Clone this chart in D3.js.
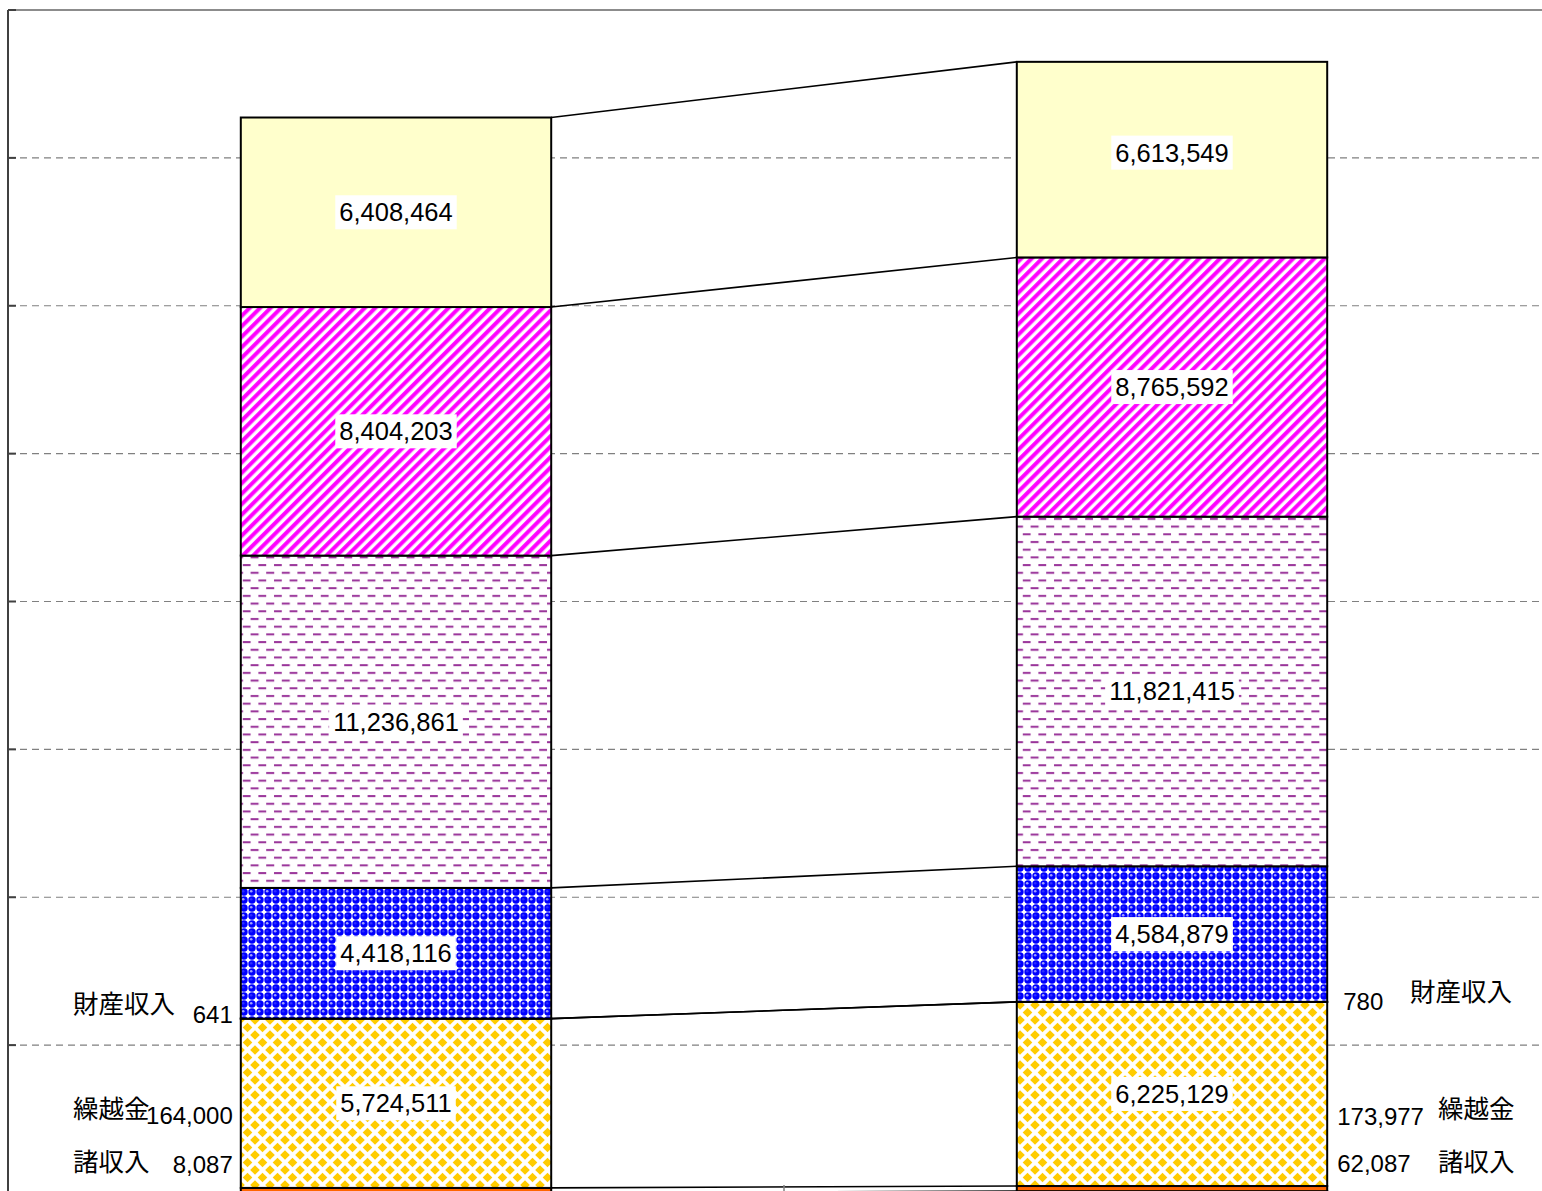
<!DOCTYPE html>
<html>
<head>
<meta charset="utf-8">
<script src="https://cdn.jsdelivr.net/npm/d3@7"></script>
<style>
  html, body { margin: 0; padding: 0; background: #fff; }
  svg { display: block; font-family: "Liberation Sans", Arial, sans-serif; }
  .jp { font-family: "Noto Sans CJK JP", sans-serif; }
</style>
</head>
<body>
<svg id="chart" width="1542" height="1191"></svg>
<script>
// ---------------------------------------------
//  Data (stack order: bottom -> top)
// ---------------------------------------------
const years = ["前年度", "本年度"];
const seriesKeys = ["諸収入", "繰越金", "gold", "財産収入", "blue", "purple", "magenta", "yellow"];
const prevValues = [8087, 164000, 5724511, 641, 4418116, 11236861, 8404203, 6408464];
const currValues = [62087, 173977, 6225129, 780, 4584879, 11821415, 8765592, 6613549];
const insideLabel = [false, false, true, false, true, true, true, true];

// small segments labelled outside the bars
const sideNames = ["財産収入", "繰越金", "諸収入"];
const sidePrev = [641, 164000, 8087];
const sideCurr = [780, 173977, 62087];

const yMax = 40000000;

// ---------------------------------------------
//  Layout
// ---------------------------------------------
const svg = d3.select("#chart");
const plot = { left: 8, right: 1560, top: 10, bottom: 1193 };

const x = d3.scaleBand()
  .domain(years)
  .range([plot.left, plot.right])
  .paddingInner(0.6)
  .paddingOuter(0.3);

const y = d3.scaleLinear()
  .domain([0, yMax])
  .range([plot.bottom, plot.top]);

const fills = {
  "諸収入": "#cc3300",
  "繰越金": "#ff6600",
  "gold": "url(#pGold)",
  "財産収入": "#999999",
  "blue": "url(#pBlue)",
  "purple": "url(#pPurple)",
  "magenta": "url(#pMagenta)",
  "yellow": "#ffffcc"
};

// ---------------------------------------------
//  Patterns
// ---------------------------------------------
const defs = svg.append("defs");

const pm = defs.append("pattern").attr("id", "pMagenta")
  .attr("patternUnits", "userSpaceOnUse").attr("width", 7.4).attr("height", 7.4)
  .attr("patternTransform", "rotate(45)");
pm.append("rect").attr("width", 7.4).attr("height", 7.4).attr("fill", "#fff");
pm.append("rect").attr("x", 0).attr("width", 4.2).attr("height", 7.4).attr("fill", "#ff33ff");
pm.append("rect").attr("x", 0.6).attr("width", 3).attr("height", 7.4).attr("fill", "#ff00ff");

const pp = defs.append("pattern").attr("id", "pPurple")
  .attr("patternUnits", "userSpaceOnUse").attr("width", 15.6).attr("height", 15.4);
pp.append("rect").attr("width", 15.6).attr("height", 15.4).attr("fill", "#fff");
pp.append("rect").attr("x", 1).attr("y", 2).attr("width", 8).attr("height", 2).attr("fill", "#993399");
pp.append("rect").attr("x", 8.8).attr("y", 9.7).attr("width", 8).attr("height", 2).attr("fill", "#993399");
pp.append("rect").attr("x", -7).attr("y", 9.7).attr("width", 8).attr("height", 2).attr("fill", "#993399");

const pb = defs.append("pattern").attr("id", "pBlue")
  .attr("patternUnits", "userSpaceOnUse").attr("width", 16).attr("height", 16);
pb.append("rect").attr("width", 16).attr("height", 16).attr("fill", "#fff");
[[4, 4], [12, 4], [4, 12], [12, 12]].forEach(([cx, cy], i) => {
  pb.append("circle").attr("cx", cx).attr("cy", cy).attr("r", 3.7).attr("fill", "#0000ff");
  pb.append("circle").attr("cx", cx - 0.8).attr("cy", cy - 0.8).attr("r", 1.3)
    .attr("fill", (i === 0 || i === 3) ? "#a0a0ff" : "#2a2aff");
});

const pg = defs.append("pattern").attr("id", "pGold")
  .attr("patternUnits", "userSpaceOnUse").attr("width", 15).attr("height", 15);
pg.append("rect").attr("width", 15).attr("height", 15).attr("fill", "#fff");
[[0, 0], [15, 0], [0, 15], [15, 15], [7.5, 7.5]].forEach(([cx, cy]) => {
  const r = 4.8;
  pg.append("path")
    .attr("d", `M${cx},${cy - r}L${cx + r},${cy}L${cx},${cy + r}L${cx - r},${cy}Z`)
    .attr("fill", "#ffcc00");
});

// ---------------------------------------------
//  Gridlines & frame
// ---------------------------------------------
const gridTicks = y.ticks(8).filter(t => t > 0 && t < yMax);

svg.append("g").selectAll("line").data(gridTicks).enter().append("line")
  .attr("x1", plot.left).attr("x2", plot.right)
  .attr("y1", d => y(d)).attr("y2", d => y(d))
  .attr("stroke", "#808080").attr("stroke-width", 1.2)
  .attr("stroke-dasharray", "7,5");

svg.append("line")
  .attr("x1", plot.left).attr("x2", plot.right)
  .attr("y1", y(yMax)).attr("y2", y(yMax))
  .attr("stroke", "#8c8c8c").attr("stroke-width", 2);

// ---------------------------------------------
//  Stacked bars
// ---------------------------------------------
const rows = years.map(yr => {
  const r = { year: yr };
  seriesKeys.forEach((k, i) => { r[k] = (yr === years[0] ? prevValues : currValues)[i]; });
  return r;
});
const stacked = d3.stack().keys(seriesKeys)(rows);

const bw = x.bandwidth();

const layers = svg.append("g").selectAll("g").data(stacked).enter().append("g")
  .attr("fill", d => fills[d.key]);

layers.selectAll("rect").data(d => d).enter().append("rect")
  .attr("x", d => x(d.data.year))
  .attr("y", d => y(d[1]))
  .attr("width", bw)
  .attr("height", d => y(d[0]) - y(d[1]))
  .attr("stroke", "#000").attr("stroke-width", 2);

// series lines between the two bars
const bounds = stacked.map(s => [s[0][1], s[1][1]]);
svg.append("g").selectAll("line").data(bounds).enter().append("line")
  .attr("x1", x(years[0]) + bw).attr("x2", x(years[1]))
  .attr("y1", d => y(d[0])).attr("y2", d => y(d[1]))
  .attr("stroke", "#000").attr("stroke-width", 1.6);

// ---------------------------------------------
//  Value labels inside bars
// ---------------------------------------------
const fmt = d3.format(",");
const labelG = svg.append("g");
stacked.forEach((s, i) => {
  if (!insideLabel[i]) return;
  s.forEach(d => {
    const cx = x(d.data.year) + bw / 2;
    let cy = (y(d[0]) + y(d[1])) / 2;
    if (i === stacked.length - 1 && d.data.year === years[1]) cy -= 7;
    const g = labelG.append("g");
    const box = g.append("rect").attr("fill", "#fff");
    const t = g.append("text")
      .attr("x", cx).attr("y", cy)
      .attr("text-anchor", "middle").attr("dominant-baseline", "central")
      .attr("font-size", 25.5).attr("fill", "#000")
      .text(fmt(d[1] - d[0]));
    const bb = t.node().getBBox();
    box.attr("x", bb.x - 4).attr("y", cy - 17).attr("width", bb.width + 8).attr("height", 34);
  });
});

// ---------------------------------------------
//  Outside labels for the small segments
// ---------------------------------------------
const sideY = { name: [1001, 1106, 1159], prevVal: [1014, 1115, 1164],
                currVal: [1001, 1116, 1163], currName: [989, 1106, 1159] };
const sideG = svg.append("g").attr("font-size", 24).attr("fill", "#000");

sideNames.forEach((n, i) => {
  sideG.append("text").attr("class", "jp")
    .attr("x", 73).attr("y", sideY.name[i]).attr("dominant-baseline", "central")
    .attr("font-size", 25.5).text(n);
  sideG.append("text")
    .attr("x", x(years[0]) - 8).attr("y", sideY.prevVal[i])
    .attr("text-anchor", "end").attr("dominant-baseline", "central")
    .text(fmt(sidePrev[i]));
  sideG.append("text")
    .attr("x", x(years[1]) + bw + (i === 0 ? 16 : 10)).attr("y", sideY.currVal[i])
    .attr("dominant-baseline", "central")
    .text(fmt(sideCurr[i]));
  sideG.append("text").attr("class", "jp")
    .attr("x", i === 0 ? 1410 : 1438).attr("y", sideY.currName[i]).attr("dominant-baseline", "central")
    .attr("font-size", 25.5).text(n);
});

// ---------------------------------------------
//  Axes
// ---------------------------------------------
svg.append("line")
  .attr("x1", plot.left).attr("x2", plot.left)
  .attr("y1", plot.top).attr("y2", plot.bottom)
  .attr("stroke", "#404040").attr("stroke-width", 2);

svg.append("g").selectAll("line").data(gridTicks.concat([yMax])).enter().append("line")
  .attr("x1", plot.left).attr("x2", plot.left + 8)
  .attr("y1", d => y(d)).attr("y2", d => y(d))
  .attr("stroke", "#404040").attr("stroke-width", 2);

// category divider tick on the x axis
const midTick = (x(years[0]) + bw / 2 + x(years[1]) + bw / 2) / 2;
svg.append("line")
  .attr("x1", midTick).attr("x2", midTick)
  .attr("y1", plot.bottom - 8).attr("y2", plot.bottom + 6)
  .attr("stroke", "#808080").attr("stroke-width", 1.5);
</script>
</body>
</html>
